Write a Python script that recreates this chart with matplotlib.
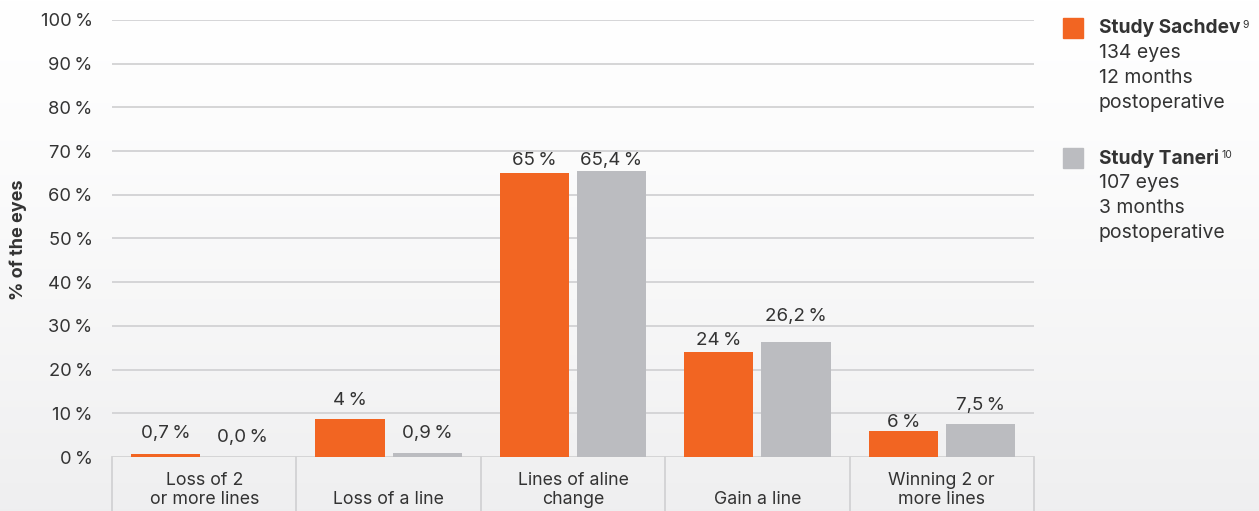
import numpy as np
import matplotlib.pyplot as plt
from matplotlib.patches import Rectangle
import matplotlib.transforms as mtransforms

plt.rcParams['font.family'] = ['Inter', 'DejaVu Sans']

categories = ['Loss of 2\nor more lines', 'Loss of a line', 'Lines of aline\nchange',
              'Gain a line', 'Winning 2 or\nmore lines']
sachdev = [0.75, 8.7, 65.0, 24.0, 5.95]
taneri = [0.0, 1.0, 65.4, 26.3, 7.5]
sachdev_labels = ['0,7\u2009%', '4\u2009%', '65\u2009%', '24\u2009%', '6\u2009%']
taneri_labels = ['0,0\u2009%', '0,9\u2009%', '65,4\u2009%', '26,2\u2009%', '7,5\u2009%']
yticks = [0, 10, 20, 30, 40, 50, 60, 70, 80, 90, 100]

# label offsets above bar top, in pixels
sachdev_pad = [20, 18, 12, 12, 8]
taneri_pad = [20, 19, 11, 26, 19]

ORANGE = '#F26522'
GRAY = '#BBBCC0'
TXT = '#333333'
GRID = '#D2D2D4'

fig = plt.figure(figsize=(12.59, 5.11), dpi=100)

# background gradient
bg = fig.add_axes([0, 0, 1, 1], zorder=-10)
grad = np.linspace(0, 1, 256).reshape(-1, 1)
top = np.array([1.0, 1.0, 1.0])
bot = np.array([0.937, 0.937, 0.941])
img = top + (bot - top) * grad[:, :, None] ** 1.3
bg.imshow(img, aspect='auto', extent=[0, 1, 0, 1], origin='upper')
bg.axis('off')

ax = fig.add_axes([112 / 1259, 1 - 457 / 511, 922 / 1259, 437 / 511])
ax.patch.set_visible(False)

x = np.arange(len(categories))
w = 0.375
off = 0.209
ax.bar(x - off, sachdev, w, color=ORANGE, zorder=3)
ax.bar(x + off, taneri, w, color=GRAY, zorder=3)

for i in range(len(categories)):
    ax.annotate(sachdev_labels[i], (x[i] - off, sachdev[i]), xytext=(0, sachdev_pad[i]),
                textcoords='offset pixels', ha='center', va='center', fontsize=13.5, color=TXT)
    ax.annotate(taneri_labels[i], (x[i] + off, taneri[i]), xytext=(0, taneri_pad[i]),
                textcoords='offset pixels', ha='center', va='center', fontsize=13.5, color=TXT)

ax.set_xlim(-0.5, len(categories) - 0.5)
ax.set_ylim(0, 100)
ax.set_yticks(yticks)
ax.set_yticklabels([f'{t}\u2009%' for t in yticks], fontsize=13.2, color=TXT)
ax.tick_params(axis='y', length=0, pad=14)
ax.set_xticks([])
for s in ax.spines.values():
    s.set_visible(False)
ax.yaxis.grid(True, color=GRID, linewidth=1.3, zorder=0)
ax.set_axisbelow(True)

# category cells under the axis
trans = mtransforms.blended_transform_factory(ax.transData, ax.transAxes)
for b in np.arange(len(categories) + 1) - 0.5:
    ax.plot([b, b], [0, -0.125], transform=trans, color=GRID, linewidth=1.3, clip_on=False)
for i, c in enumerate(categories):
    ax.text(x[i], -0.117, c, transform=trans, ha='center', va='bottom', fontsize=12.8,
            color=TXT, linespacing=1.15)

fig.text(18 / 1259, 1 - 240 / 511, '% of the eyes', rotation=90, ha='center', va='center',
         fontsize=13, fontweight='bold', color=TXT)

# legend
legend_items = [
    (ORANGE, 'Study Sachdev', '9', ['134 eyes', '12 months', 'postoperative'], 28),
    (GRAY, 'Study Taneri', '10', ['107 eyes', '3 months', 'postoperative'], 158),
]
for color, name, sup, lines, y0 in legend_items:
    fig.add_artist(Rectangle((1063 / 1259, 1 - (y0 + 10) / 511), 20 / 1259, 20 / 511,
                             transform=fig.transFigure, color=color))
    t = fig.text(1099 / 1259, 1 - y0 / 511, name, ha='left', va='center', fontsize=13.8,
                 fontweight='bold', color=TXT)
    fig.add_artist(plt.Annotation(sup, xy=(1, 1), xycoords=t, xytext=(1.5, -1),
                                  textcoords='offset points', ha='left', va='top',
                                  fontsize=7.5, color=TXT))
    for k, ln in enumerate(lines):
        fig.text(1099 / 1259, 1 - (y0 + 25 * (k + 1)) / 511, ln,
                 ha='left', va='center', fontsize=14, color=TXT)

fig.savefig('out.png', dpi=100)
